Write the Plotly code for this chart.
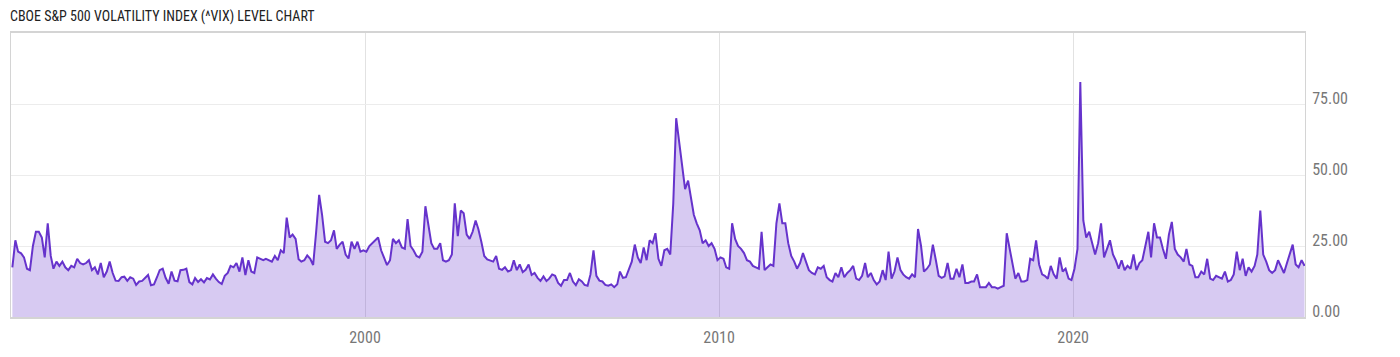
import plotly.graph_objects as go
import pandas as pd

title_text = "CBOE S&P 500 VOLATILITY INDEX (^VIX) LEVEL CHART"
start_month = "1990-01"

# monthly VIX level readings, by decade
vix_1990s = [
    17.5, 27, 23, 22.4, 21, 17, 16.5, 25, 30, 30, 28, 21,
    33, 21.5, 17, 19.5, 18, 19.5, 17.5, 16.5, 18, 17.5, 20.5, 19,
    18.5, 19, 20, 16.5, 17.5, 15, 19, 14, 16, 19.5, 15.5, 12.8,
    12.7, 14, 14.2, 12.7, 14, 13.5, 11.3, 12.5, 12.7, 13.8, 14.8, 11.2,
    11.5, 14, 16.5, 17, 13.8, 11.7, 16, 12.8, 12.6, 16.5, 16.6, 17,
    12.3, 11.5, 13.7, 12.3, 13.3, 12.2, 13.7, 13.2, 15, 13.5, 12.3, 11.6,
    14.5, 15.5, 18, 17.5, 19, 16, 21, 14.8, 20, 16, 15.5, 21,
    20.5, 20, 20.5, 20, 19.5, 21.5, 20, 23.5, 22.5, 35, 28, 29,
    27.5, 20.3, 19.5, 20, 21.7, 20.5, 18.3, 30, 43, 36, 26.5, 26,
    27, 30.5, 24, 25.5, 26.5, 22, 20.6, 26.5, 24, 26.5, 23, 23.5,
]
vix_2000s = [
    23, 25, 26, 27, 28, 23.5, 21, 18.3, 20, 27.5, 26, 27,
    24.5, 24, 34.5, 25, 23.5, 21.5, 21, 23, 39, 33, 26, 24,
    24, 26, 20, 19.5, 20, 22, 40, 28.5, 37.5, 36.5, 29, 27.5,
    30, 34, 31, 26.5, 21.5, 20.3, 20, 19.5, 21.5, 17, 16.6, 17.5,
    16, 16.5, 20, 16.5, 18.5, 15.8, 16.6, 18.5, 14.8, 15.5, 13.8, 12.7,
    14.3, 12.7, 13.5, 15, 14.5, 12, 11, 13, 13, 15.5, 12.5, 11.2,
    13.3, 12.5, 11.3, 11, 15, 23.5, 14.5, 12.8, 12.5, 11.3, 11, 11.5,
    10.5, 11.5, 16, 13.8, 14, 16.5, 19.5, 25.5, 21, 19, 24.5, 20,
    27, 26, 29.5, 20.5, 18, 23.5, 24, 22, 40, 70, 62, 55,
    45, 48, 42.5, 36, 33, 30.5, 26, 27, 25, 26, 24, 20,
]
vix_2010s = [
    21, 20.5, 17.5, 17, 33, 27.5, 25, 24, 22.5, 20, 19.5, 18,
    17.5, 17, 30, 16.5, 17.5, 18.5, 18, 33, 40, 33, 33, 26,
    21.5, 19.5, 17, 19, 22.5, 19, 16.5, 15.5, 15, 17.5, 17, 18,
    14, 13, 12.5, 15.5, 14, 17.5, 14, 15.5, 16.5, 18, 13.5, 13,
    14.5, 19, 14, 15.5, 13, 11.5, 12.5, 16.5, 13, 23, 13.5, 16,
    21, 16.5, 15, 14, 13.5, 15, 14, 31, 25, 16, 17, 18.5,
    25.5, 20, 14.5, 13.8, 14.3, 19, 13.5, 13.5, 17, 14, 18.5, 12,
    12, 12.5, 12.5, 15, 10.5, 10.5, 10.5, 12, 10.5, 10.5, 10, 10.5,
    11, 29.5, 24, 18, 13.5, 15.5, 12.5, 12.5, 13, 20.5, 20, 27,
    18.5, 15, 14.5, 13.5, 18, 15, 13.5, 21, 16, 17, 13.5, 13,
]
vix_2020s = [
    17, 24, 82.7, 34, 28, 30, 26, 22, 26, 33, 21, 24,
    27, 22, 20, 17, 20, 16.5, 18, 17, 22, 16.5, 19, 20,
    25, 30, 21, 33, 28, 28, 24, 20.5, 29, 33.5, 24, 22,
    21, 19.5, 24, 18.5, 18, 14, 14, 16, 15, 20.5, 13.5, 13,
    14.5, 14, 13.5, 16, 12.5, 13, 15, 23, 16.5, 20.5, 14.5, 17.5,
    16, 18, 22, 37.5, 22, 19.5, 16.5, 15.5, 16.5, 20, 17.5, 15.5,
    19, 22, 25.5, 18.5, 17.5, 20, 18,
]

x_range = ["1990-01-01", "2026-07-20"]
x_tick_dates = ["2000-01-01", "2010-01-01", "2020-01-01"]
x_tick_labels = ["2000", "2010", "2020"]
y_range = [0, 100]
y_tick_values = [0, 25, 50, 75]
y_tick_labels = ["0.00", "25.00", "50.00", "75.00"]

values = vix_1990s + vix_2000s + vix_2010s + vix_2020s
dates = pd.date_range(start_month + "-01", periods=len(values), freq="MS") + pd.Timedelta(days=14)

FONT = "Roboto Condensed, Liberation Sans Narrow, Arial Narrow, Roboto, sans-serif"

fig = go.Figure()
fig.add_trace(go.Scatter(
    x=dates, y=values, mode="lines",
    line=dict(color="#6633cc", width=2),
    fill="tozeroy", fillcolor="rgba(102,51,204,0.26)",
    hoverinfo="skip", showlegend=False,
))

fig.update_layout(
    width=1400, height=357,
    margin=dict(l=10, r=95, t=33, b=30),
    paper_bgcolor="white", plot_bgcolor="white",
    font=dict(family=FONT),
    title=dict(
        text=title_text, x=10 / 1400, xref="container", xanchor="left",
        y=1 - 16 / 357, yref="container", yanchor="middle",
        font=dict(family=FONT, size=14, color="#222222"),
    ),
    xaxis=dict(
        type="date", range=x_range,
        tickvals=x_tick_dates, ticktext=x_tick_labels,
        showgrid=True, gridcolor="#e2e2e2", gridwidth=1,
        showline=True, linecolor="#d4d4d4", linewidth=2, mirror=True,
        ticks="", zeroline=False, ticklabelstandoff=5,
        tickfont=dict(family=FONT, size=16, color="#777777"),
    ),
    yaxis=dict(
        side="right", range=y_range,
        tickvals=y_tick_values, ticktext=y_tick_labels,
        showgrid=True, gridcolor="#ececec", gridwidth=1,
        showline=True, linecolor="#d4d4d4", linewidth=1, mirror=True,
        ticks="", zeroline=False,
        ticklabelposition="outside", ticklabelshift=-6, ticklabelstandoff=3,
        tickfont=dict(family=FONT, size=16, color="#777777"),
    ),
)

fig.write_html("out.html")
